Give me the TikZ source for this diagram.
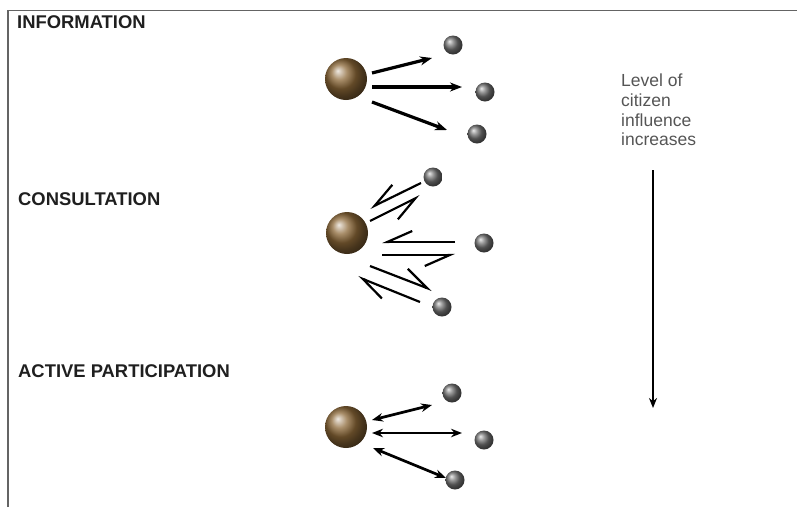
\documentclass[tikz,border=0pt]{standalone}
\usepackage{fontspec}
\setmainfont{Liberation Sans}
\usetikzlibrary{arrows.meta,calc}
\definecolor{bronze}{RGB}{140,104,56}
\definecolor{pebble}{RGB}{115,115,115}
\definecolor{frameline}{RGB}{100,100,100}
\definecolor{notegray}{RGB}{85,85,85}
\begin{document}
\begin{tikzpicture}[x=1pt,y=-1pt,
  bigball/.style={circle,inner sep=0pt,minimum size=42pt,shading=ball,ball color=bronze},
  smallball/.style={circle,inner sep=0pt,minimum size=19pt,shading=ball,ball color=pebble},
  heading/.style={anchor=base west,inner sep=0pt,font=\bfseries\fontsize{18.4}{20}\selectfont,text=black!88},
  oneway/.style={line width=3.2pt,-{Stealth[length=12pt,width=9pt]}},
  twoway/.style={line width=2.7pt,{Stealth[length=11pt,width=8.5pt]}-{Stealth[length=11pt,width=8.5pt]}},
  barbL/.style={line width=2.2pt,-{Straight Barb[harpoon,length=25pt,width=22pt,line width=2.2pt]}},
  barbR/.style={line width=2.2pt,-{Straight Barb[harpoon,swap,length=25pt,width=22pt,line width=2.2pt]}},
  scale arrow/.style={line width=2.2pt,-{Stealth[length=10pt,width=8pt]}}
]
\useasboundingbox (0,0) rectangle (797,507);

% frame: top and left rules
\draw[frameline,line width=1.8pt] (8,507) -- (8,10.5) -- (797,10.5);

% section titles
\node[heading] (tInfo) at (17,28) {INFORMATION};
\node[heading] (tCons) at (18,205) {CONSULTATION};
\node[heading] (tAct)  at (18,377) {ACTIVE PARTICIPATION};

% side note and its arrow
\node[anchor=north west,inner sep=0pt,align=left,text=notegray,
      font=\fontsize{17.5}{19.7}\selectfont] (note) at (621,74)
  {Level of\\citizen\\influence\\increases};
\coordinate (scaleTop) at (653,170);
\coordinate (scaleBot) at (653,408);
\draw[scale arrow] (scaleTop) -- (scaleBot);

% ---- information: one-way flow ----
\node[bigball]   (B1)  at (346,79) {};
\node[smallball] (s11) at (453,45) {};
\node[smallball] (s12) at (485,92) {};
\node[smallball] (s13) at (477,134) {};
\draw[oneway] ($(B1)+(26,-6)$) -- ($(s11)+(-21,13)$);
\draw[oneway] ($(B1)+(26,8)$)  -- ($(s12)+(-23,-5)$);
\draw[oneway] ($(B1)+(26,23)$) -- ($(s13)+(-30,-4)$);

% ---- consultation: paired half-arrows ----
\node[bigball]   (B2)  at (347,233) {};
\node[smallball] (s21) at (433,177) {};
\node[smallball] (s22) at (484,243) {};
\node[smallball] (s23) at (442,307) {};
\draw[barbR] ($(s21)+(-12,6)$)  -- ($(B2)+(23,-25)$);
\draw[barbR] ($(B2)+(23,-12)$)  -- ($(s21)+(-13,19)$);
\draw[barbR] ($(s22)+(-29,-1)$) -- ($(B2)+(35,9)$);
\draw[barbR] ($(B2)+(35,22)$)   -- ($(s22)+(-29,12)$);
\draw[barbL] ($(B2)+(23,33)$)   -- ($(s23)+(-10,-17)$);
\draw[barbL] ($(s23)+(-22,-5)$) -- ($(B2)+(11,44)$);

% ---- active participation: two-way flow ----
\node[bigball]   (B3)  at (346,427) {};
\node[smallball] (s31) at (452,393) {};
\node[smallball] (s32) at (484,440) {};
\node[smallball] (s33) at (455,480) {};
\draw[twoway] ($(B3)+(26,-7)$) -- ($(s31)+(-20,12)$);
\draw[twoway] ($(B3)+(26,6)$)  -- ($(s32)+(-22,-7)$);
\draw[twoway] ($(B3)+(27,21)$) -- ($(s33)+(-9,-2)$);
\end{tikzpicture}
\end{document}
